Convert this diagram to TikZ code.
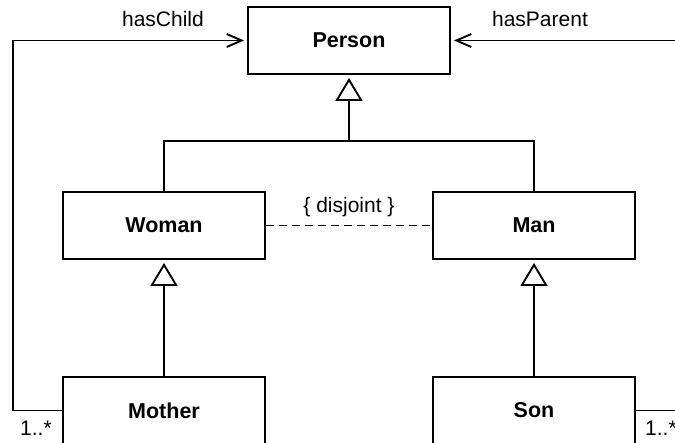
\documentclass[tikz,border=0pt]{standalone}
\usepackage{fontspec}
\setmainfont{Liberation Sans}
\usetikzlibrary{arrows.meta}
\begin{document}
\begin{tikzpicture}[x=1pt,y=-1pt,
  cls/.style={draw, line width=1.9pt, minimum width=202pt, minimum height=67pt, inner sep=0pt, font=\fontsize{21.5}{25}\selectfont\bfseries},
  lbl/.style={anchor=base, inner sep=0pt, font=\fontsize{21}{25}\selectfont},
  conn/.style={line width=1.9pt},
  assoc/.style={conn, -{Straight Barb[length=15pt,width=13pt,line width=1.9pt]}, shorten >=3pt},
  inherit/.style={conn, -{Triangle[open,length=23pt,width=27pt,line width=1.9pt,fill=white]}, shorten >=3pt}]
\clip (0,0) rectangle (675,443);
\useasboundingbox (0,0) rectangle (675,443);
\node[cls] (person) at (349,40.5) {Person};
\node[cls] (woman) at (164,225.5) {Woman};
\node[cls] (man) at (534,225.5) {Man};
\node[cls] (mother) at (164,410.5) {Mother};
\node[cls] (son) at (534,410.5) {Son};
\coordinate (joint) at (349,141);
\coordinate (cl) at (13,40.5);
\coordinate (cr) at (700,40.5);
% generalisations
\draw[conn] (woman.north) |- (joint) -| (man.north);
\draw[inherit] (joint) -- (person.south);
\draw[inherit] (mother.north) -- (woman.south);
\draw[inherit] (son.north) -- (man.south);
% disjoint
\draw[conn, dash pattern=on 8pt off 5pt] (woman.east) -- (man.west);
\node[lbl] (disj) at (349,213) {\{ disjoint \}};
% associations
\draw[assoc] (mother.west) -| (cl) -- (person.west);
\draw[assoc] (son.east) -| (cr) -- (person.east);
\node[lbl] (hc) at (163,27) {hasChild};
\node[lbl] (hp) at (540,27) {hasParent};
\node[lbl, anchor=base west] (m1) at (20,436) {1..*};
\node[lbl, anchor=base west] (m2) at (645,436) {1..*};
\end{tikzpicture}
\end{document}
